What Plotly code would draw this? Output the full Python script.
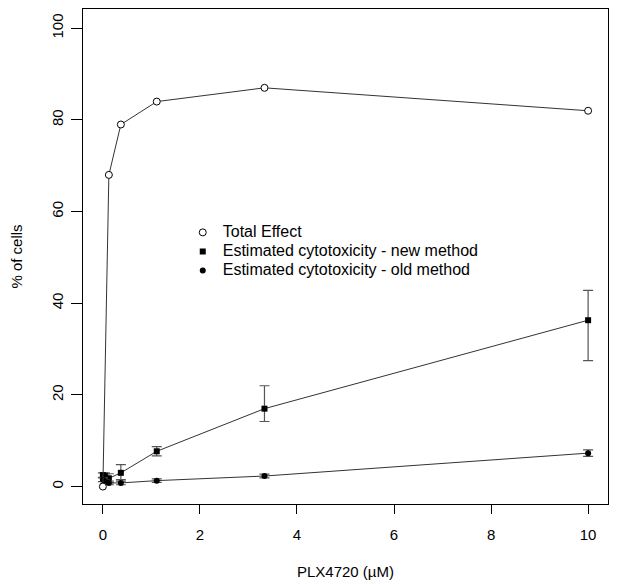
import plotly.graph_objects as go

# Concentrations of PLX4720 (uM)
conc_total = [0, 0.123, 0.37, 1.11, 3.33, 10]
total_effect = [0, 68, 79, 84, 87, 82]

conc_tox = [0, 0.041, 0.123, 0.37, 1.11, 3.33, 10]
new_method = [2.5, 2.3, 1.8, 3.0, 7.7, 17.0, 36.3]
new_err_plus = [0.5, 0.7, 1.0, 1.8, 1.0, 5.0, 6.5]
new_err_minus = [0.5, 0.7, 1.0, 1.5, 1.0, 2.8, 8.8]
old_method = [1.5, 1.0, 0.8, 0.8, 1.3, 2.3, 7.3]
old_err = [0.4, 0.4, 0.4, 0.4, 0.4, 0.4, 0.7]

series_names = ["Total Effect",
                "Estimated cytotoxicity - new method",
                "Estimated cytotoxicity - old method"]

x_ticks = [0, 2, 4, 6, 8, 10]
y_ticks = [0, 20, 40, 60, 80, 100]

FONT = "Liberation Sans, Arial, sans-serif"
LINE = "#333333"


def leg(name):
    return '<span style="font-size:16px">%s</span>' % name


fig = go.Figure()

fig.add_trace(go.Scatter(
    x=conc_tox, y=new_method, mode="lines+markers", showlegend=False,
    line=dict(color=LINE, width=1),
    marker=dict(symbol="square", size=6, color="black"),
    error_y=dict(type="data", symmetric=False, array=new_err_plus,
                 arrayminus=new_err_minus, color="#555555", thickness=1.2, width=5),
))
fig.add_trace(go.Scatter(
    x=conc_tox, y=old_method, mode="lines+markers", showlegend=False,
    line=dict(color=LINE, width=1),
    marker=dict(symbol="circle", size=6, color="black"),
    error_y=dict(type="data", array=old_err, color="#555555", thickness=1.2, width=5),
))
fig.add_trace(go.Scatter(
    x=conc_total, y=total_effect, mode="lines+markers", showlegend=False,
    line=dict(color=LINE, width=1),
    marker=dict(symbol="circle", size=7, color="white",
                line=dict(color="black", width=1)),
))

# legend-only entries (markers only, as in the original)
fig.add_trace(go.Scatter(x=[None], y=[None], mode="markers", name=leg(series_names[0]),
                         marker=dict(symbol="circle", size=7, color="white",
                                     line=dict(color="black", width=1))))
fig.add_trace(go.Scatter(x=[None], y=[None], mode="markers",
                         name=leg(series_names[1]),
                         marker=dict(symbol="square", size=6, color="black")))
fig.add_trace(go.Scatter(x=[None], y=[None], mode="markers",
                         name=leg(series_names[2]),
                         marker=dict(symbol="circle", size=6, color="black")))

# the page body has an 8px margin, so the figure is shifted by 8px
fig.update_layout(
    width=624, height=576,
    margin=dict(l=75, r=24, t=1, b=80),
    paper_bgcolor="white", plot_bgcolor="white",
    font=dict(family=FONT, size=15, color="black"),
    legend=dict(x=0.19, y=0.578, xanchor="left", yanchor="top",
                bgcolor="rgba(0,0,0,0)", font=dict(size=12), tracegroupgap=0),
)
fig.update_xaxes(
    range=[-0.41, 10.41], tickvals=x_ticks, ticks="outside", ticklen=9,
    tickcolor="black", showgrid=False, zeroline=False, showline=True,
    linecolor="black", linewidth=1, mirror=True, ticklabelstandoff=8,
    automargin=False,
    title=dict(text="PLX4720 (\u00b5M)", standoff=24, font=dict(size=15)),
    tickfont=dict(size=15),
)
fig.update_yaxes(
    range=[-3.8, 104.2], tickvals=y_ticks, ticks="outside", ticklen=11,
    tickcolor="black", showgrid=False, zeroline=False, showline=True,
    linecolor="black", linewidth=1, mirror=True, tickangle=-90,
    ticklabelstandoff=2, automargin=False,
    title=dict(text="% of cells", standoff=22, font=dict(size=15)),
    tickfont=dict(size=15),
)

fig.write_html("out.html")
